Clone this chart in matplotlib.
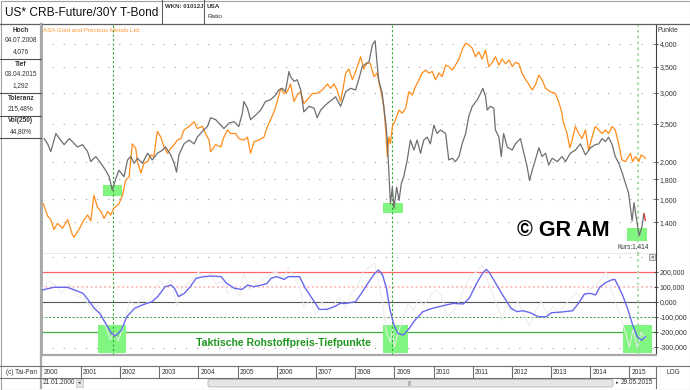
import matplotlib
matplotlib.use("Agg")
import matplotlib.pyplot as plt
from matplotlib.lines import Line2D
from matplotlib.patches import Rectangle, FancyBboxPatch
from matplotlib.transforms import IdentityTransform
from matplotlib.ticker import NullLocator, FixedLocator

plt.rcParams['font.family'] = ['Liberation Sans', 'DejaVu Sans']

# ---------------- data ----------------
gray_years = [2000.06, 2000.15, 2000.23, 2000.36, 2000.48, 2000.57, 2000.70, 2000.78, 2000.91, 2001.04,
              2001.17, 2001.25, 2001.38, 2001.51, 2001.63, 2001.72, 2001.80, 2001.89, 2001.97, 2002.10,
              2002.19, 2002.27, 2002.36, 2002.44, 2002.57, 2002.70, 2002.82, 2002.95, 2003.08, 2003.16,
              2003.29, 2003.38, 2003.44, 2003.50, 2003.63, 2003.76, 2003.89, 2003.97, 2004.10, 2004.23,
              2004.31, 2004.44, 2004.57, 2004.65, 2004.78, 2004.91, 2005.03, 2005.12, 2005.16, 2005.25,
              2005.33, 2005.46, 2005.59, 2005.71, 2005.84, 2005.97, 2006.05, 2006.14, 2006.22, 2006.31,
              2006.35, 2006.44, 2006.52, 2006.61, 2006.69, 2006.82, 2006.95, 2007.03, 2007.12, 2007.24,
              2007.37, 2007.50, 2007.63, 2007.76, 2007.88, 2008.01, 2008.09, 2008.18, 2008.27, 2008.35,
              2008.44, 2008.51, 2008.56, 2008.60, 2008.69, 2008.78, 2008.82, 2008.86, 2008.90, 2008.95,
              2008.99, 2009.06, 2009.12, 2009.18, 2009.24, 2009.33, 2009.41, 2009.50, 2009.58, 2009.67,
              2009.75, 2009.84, 2009.92, 2010.01, 2010.09, 2010.18, 2010.31, 2010.39, 2010.48, 2010.56,
              2010.65, 2010.73, 2010.82, 2010.90, 2010.99, 2011.12, 2011.20, 2011.26, 2011.33, 2011.37,
              2011.45, 2011.54, 2011.58, 2011.67, 2011.73, 2011.79, 2011.88, 2012.01, 2012.09, 2012.22,
              2012.30, 2012.39, 2012.45, 2012.52, 2012.60, 2012.69, 2012.77, 2012.86, 2012.94, 2013.03,
              2013.16, 2013.28, 2013.37, 2013.49, 2013.62, 2013.75, 2013.88, 2014.01, 2014.13, 2014.22,
              2014.30, 2014.39, 2014.47, 2014.56, 2014.64, 2014.73, 2014.81, 2014.90, 2014.98, 2015.03,
              2015.07, 2015.12, 2015.17, 2015.25, 2015.32, 2015.37, 2015.41]
gray_vals = [2.29, 2.22, 2.12, 2.36, 2.27, 2.21, 2.29, 2.25, 2.18, 2.21,
             2.12, 2.00, 2.06, 1.98, 1.90, 1.83, 1.69, 1.81, 1.90, 1.83,
             2.02, 2.06, 1.98, 2.04, 1.98, 2.10, 2.02, 2.10, 2.14, 2.18,
             2.08, 1.98, 1.88, 2.08, 2.22, 2.27, 2.22, 2.31, 2.39, 2.46,
             2.59, 2.56, 2.48, 2.43, 2.51, 2.53, 2.46, 2.66, 2.85, 2.74,
             2.56, 2.63, 2.71, 2.85, 2.88, 2.96, 3.05, 3.08, 3.02, 3.40,
             3.30, 3.21, 3.24, 3.05, 2.68, 2.77, 2.74, 2.59, 2.71, 2.79,
             2.86, 2.93, 2.77, 3.02, 3.08, 3.05, 3.24, 3.50, 3.56, 3.59,
             3.98, 4.076, 3.56, 3.24, 2.99, 2.51, 2.27, 1.87, 1.56, 1.72,
             1.52, 1.72, 1.59, 1.76, 1.83, 2.02, 2.27, 2.14, 2.27, 2.10,
             2.27, 2.31, 2.22, 2.48, 2.36, 2.41, 2.36, 2.02, 2.04, 2.00,
             2.06, 2.22, 2.36, 2.61, 2.77, 2.88, 2.99, 3.08, 2.93, 2.71,
             2.77, 2.74, 2.41, 2.31, 2.06, 2.36, 2.18, 2.14, 2.22, 2.29,
             2.12, 1.94, 1.79, 1.90, 2.02, 2.17, 2.06, 2.10, 1.96, 2.04,
             2.00, 2.06, 2.00, 2.10, 2.14, 2.22, 2.08, 2.17, 2.21, 2.22,
             2.29, 2.25, 2.31, 2.21, 2.06, 1.98, 1.88, 1.76, 1.66, 1.52,
             1.41, 1.57, 1.45, 1.292, 1.36, 1.47, 1.414]

orange_years = [2000.04, 2000.15, 2000.23, 2000.31, 2000.40, 2000.53, 2000.66, 2000.78, 2000.82, 2000.95,
                2001.08, 2001.17, 2001.25, 2001.33, 2001.42, 2001.51, 2001.59, 2001.68, 2001.76, 2001.84,
                2001.97, 2002.06, 2002.14, 2002.23, 2002.31, 2002.40, 2002.44, 2002.53, 2002.61, 2002.70,
                2002.78, 2002.86, 2002.95, 2003.04, 2003.12, 2003.21, 2003.29, 2003.38, 2003.46, 2003.55,
                2003.63, 2003.76, 2003.89, 2003.97, 2004.10, 2004.18, 2004.27, 2004.31, 2004.44, 2004.57,
                2004.65, 2004.74, 2004.82, 2004.95, 2005.03, 2005.16, 2005.25, 2005.33, 2005.42, 2005.54,
                2005.67, 2005.76, 2005.84, 2005.93, 2006.01, 2006.10, 2006.18, 2006.27, 2006.35, 2006.44,
                2006.52, 2006.61, 2006.69, 2006.78, 2006.91, 2007.03, 2007.16, 2007.29, 2007.37, 2007.46,
                2007.54, 2007.63, 2007.76, 2007.84, 2007.93, 2008.01, 2008.14, 2008.22, 2008.31, 2008.39,
                2008.48, 2008.56, 2008.65, 2008.73, 2008.78, 2008.82, 2008.86, 2008.90, 2008.95, 2009.03,
                2009.12, 2009.20, 2009.29, 2009.37, 2009.46, 2009.54, 2009.63, 2009.71, 2009.80, 2009.88,
                2009.97, 2010.05, 2010.14, 2010.22, 2010.31, 2010.39, 2010.48, 2010.56, 2010.65, 2010.73,
                2010.82, 2010.90, 2010.99, 2011.07, 2011.16, 2011.24, 2011.33, 2011.41, 2011.50, 2011.58,
                2011.67, 2011.75, 2011.84, 2011.93, 2012.01, 2012.09, 2012.18, 2012.26, 2012.35, 2012.43,
                2012.52, 2012.60, 2012.69, 2012.77, 2012.86, 2012.98, 2013.11, 2013.19, 2013.26, 2013.32,
                2013.41, 2013.48, 2013.54, 2013.62, 2013.71, 2013.79, 2013.88, 2013.96, 2014.05, 2014.13,
                2014.22, 2014.30, 2014.39, 2014.47, 2014.56, 2014.64, 2014.73, 2014.81, 2014.90, 2014.98,
                2015.03, 2015.08, 2015.16, 2015.24, 2015.30, 2015.36, 2015.41]
orange_vals = [1.56, 1.45, 1.42, 1.34, 1.39, 1.35, 1.42, 1.30, 1.28, 1.34,
               1.42, 1.46, 1.41, 1.64, 1.53, 1.49, 1.43, 1.49, 1.46, 1.52,
               1.56, 1.64, 1.79, 1.83, 2.22, 2.16, 2.00, 1.87, 1.98, 2.00,
               2.08, 2.06, 2.39, 2.31, 2.18, 2.10, 2.16, 2.21, 2.27, 2.29,
               2.41, 2.46, 2.53, 2.43, 2.46, 2.36, 2.27, 2.12, 2.21, 2.18,
               2.31, 2.41, 2.36, 2.36, 2.29, 2.27, 2.31, 2.10, 2.25, 2.27,
               2.31, 2.46, 2.56, 2.68, 2.85, 3.08, 2.99, 3.02, 3.16, 2.85,
               2.96, 3.02, 2.82, 2.88, 2.99, 2.99, 3.05, 3.16, 3.08, 3.16,
               3.05, 2.85, 3.37, 3.45, 3.24, 3.40, 3.71, 3.45, 3.59, 3.56,
               3.30, 3.37, 3.05, 2.77, 2.41, 2.06, 2.31, 2.22, 2.46, 2.56,
               2.71, 2.66, 2.74, 3.02, 2.96, 3.11, 3.24, 3.37, 3.43, 3.37,
               3.40, 3.24, 3.37, 3.30, 3.53, 3.50, 3.43, 3.53, 3.66, 3.86,
               4.02, 3.98, 3.90, 3.71, 3.82, 3.66, 3.86, 3.50, 3.59, 3.71,
               3.53, 3.66, 3.56, 3.64, 3.50, 3.59, 3.56, 3.37, 3.24, 3.16,
               3.05, 3.14, 3.33, 3.24, 3.08, 3.02, 2.99, 2.85, 2.71, 2.51,
               2.36, 2.17, 2.27, 2.46, 2.36, 2.29, 2.41, 2.14, 2.31, 2.46,
               2.41, 2.36, 2.41, 2.36, 2.46, 2.41, 2.21, 2.02, 2.00, 2.06,
               2.10, 2.00, 2.06, 2.00, 2.08, 2.06, 2.04]

osc_years = [2000.01, 2000.31, 2000.65, 2000.84, 2001.05, 2001.19, 2001.34, 2001.48, 2001.63, 2001.78,
             2001.88, 2002.03, 2002.17, 2002.37, 2002.56, 2002.81, 2002.96, 2003.15, 2003.30, 2003.39,
             2003.49, 2003.64, 2003.79, 2003.94, 2004.13, 2004.33, 2004.58, 2004.72, 2004.92, 2005.11,
             2005.26, 2005.41, 2005.61, 2005.75, 2005.85, 2006.00, 2006.19, 2006.29, 2006.44, 2006.58,
             2006.73, 2006.93, 2007.08, 2007.27, 2007.47, 2007.62, 2007.77, 2008.01, 2008.16, 2008.35,
             2008.50, 2008.60, 2008.70, 2008.80, 2008.89, 2008.99, 2009.09, 2009.23, 2009.38, 2009.53,
             2009.73, 2009.97, 2010.32, 2010.51, 2010.76, 2010.91, 2011.10, 2011.25, 2011.35, 2011.44,
             2011.59, 2011.79, 2011.98, 2012.13, 2012.28, 2012.47, 2012.67, 2012.87, 2013.02, 2013.26,
             2013.55, 2013.70, 2013.85, 2014.00, 2014.14, 2014.24, 2014.39, 2014.54, 2014.63, 2014.69,
             2014.82, 2014.95, 2015.08, 2015.20, 2015.31, 2015.41]
osc_vals = [80, 98, 98, 80, 58, 13, -42, -76, -142, -209,
            -227, -187, -98, -42, -20, 2, 36, 102, 113, 91,
            36, 58, 102, 158, 169, 173, 169, 124, 91, 84,
            113, 102, 113, 124, 158, 169, 151, 169, 169, 169,
            91, 13, -49, -49, -31, -9, -9, 2, 58, 135,
            191, 213, 180, 91, -53, -153, -209, -220, -176, -120,
            -64, -42, -20, -9, -13, 24, 124, 191, 218, 191,
            124, 36, -42, -64, -58, -71, -98, -98, -71, -67,
            -58, -9, 53, 58, 47, 98, 129, 147, 151, 120,
            50, -40, -150, -230, -255, -232]

raw_years = [2000.0, 2000.2, 2000.35, 2000.5, 2000.7, 2000.9, 2001.1, 2001.3, 2001.45, 2001.6,
             2001.75, 2001.85, 2001.95, 2002.1, 2002.25, 2002.4, 2002.55, 2002.7, 2002.85, 2003.0,
             2003.15, 2003.3, 2003.45, 2003.6, 2003.8, 2004.0, 2004.15, 2004.3, 2004.45, 2004.6,
             2004.75, 2004.9, 2005.05, 2005.15, 2005.3, 2005.5, 2005.65, 2005.85, 2006.0, 2006.15,
             2006.3, 2006.45, 2006.6, 2006.7, 2006.85, 2007.0, 2007.15, 2007.3, 2007.45, 2007.6,
             2007.75, 2007.9, 2008.05, 2008.2, 2008.4, 2008.5, 2008.6, 2008.7, 2008.8, 2008.9,
             2008.95, 2009.0, 2009.1, 2009.2, 2009.35, 2009.5, 2009.6, 2009.75, 2009.9, 2010.05,
             2010.2, 2010.35, 2010.5, 2010.65, 2010.8, 2010.95, 2011.1, 2011.25, 2011.35, 2011.5,
             2011.65, 2011.75, 2011.85, 2012.0, 2012.15, 2012.3, 2012.45, 2012.6, 2012.75, 2012.9,
             2013.05, 2013.2, 2013.35, 2013.5, 2013.65, 2013.8, 2013.95, 2014.1, 2014.25, 2014.4,
             2014.5, 2014.6, 2014.7, 2014.8, 2014.9, 2015.0, 2015.1, 2015.2, 2015.3, 2015.41]
raw_vals = [90, 140, 110, 60, 120, 40, 20, -60, -20, -140,
            -250, -200, -260, -150, 20, -40, 40, -10, 60, 140,
            110, 150, -30, 100, 140, 200, 150, 190, 120, 140,
            60, 100, 40, 190, 80, 120, 150, 190, 200, 150,
            230, 160, 80, -40, 20, -80, 0, -60, -20, 30,
            -40, 60, 100, 200, 240, 260, 120, 0, -200, -270,
            -180, -300, -200, -120, -10, -60, 20, -20, 30, 80,
            40, -100, -60, 0, 100, 180, 200, 250, 160, 60,
            -40, -120, -20, -60, 0, -80, -160, -60, 0, -80,
            -30, -80, -20, 20, 60, 20, 80, 100, 140, 200,
            120, 40, -40, -120, -200, -300, -180, -310, -200, -240]

year_labels = [str(y) for y in range(2000, 2016)]
top_ticks = [1.4, 1.6, 1.8, 2.0, 2.5, 3.0, 3.5, 4.0]
top_tick_labels = ["1,400", "1,600", "1,800", "2,000", "2,500", "3,000", "3,500", "4,000"]
bot_ticks = [200, 100, 0, -100, -200, -300]
bot_tick_labels = ["200,000", "100,000", "0,000", "-100,000", "-200,000", "-300,000"]
low_dates = [2001.81, 2008.95, 2015.22]

# ---------------- figure ----------------
W, H = 690, 390
fig = plt.figure(figsize=(W / 100, H / 100), dpi=100)
fig.patch.set_facecolor('white')
ID = IdentityTransform()


def T(x, y, s, **kw):
    kw.setdefault('fontsize', 5)
    kw.setdefault('color', '#333333')
    kw.setdefault('va', 'center')
    fig.text(x, H - y, s, transform=ID, **kw)


def L(x0, y0, x1, y1, color='#606060', lw=0.8, **kw):
    fig.add_artist(Line2D([x0, x1], [H - y0, H - y1], transform=ID, color=color, lw=lw, **kw))


XL, XR = 41, 656
YT, YM, YB = 24, 254, 355
x0, x1 = 1999.98, 2015.68

ax1 = fig.add_axes([XL / W, 1 - YM / H, (XR - XL) / W, (YM - YT) / H])
ax2 = fig.add_axes([XL / W, 1 - YB / H, (XR - XL) / W, (YB - YM) / H])

for ax in (ax1, ax2):
    ax.set_xlim(x0, x1)
    ax.set_xticks([])
    ax.spines['left'].set_color('#a8a8a8')
    ax.spines['left'].set_linewidth(2.0)
    ax.spines['right'].set_color('#404040')
    ax.spines['right'].set_linewidth(0.8)
    ax.spines['top'].set_visible(False)
    ax.yaxis.tick_right()
    ax.tick_params(axis='y', which='both', left=False, right=True, labelleft=False,
                   labelright=True, length=3, width=0.6, direction='inout',
                   labelsize=5, colors='#333333', pad=1)
ax1.spines['bottom'].set_color('#505050')
ax1.spines['bottom'].set_linewidth(0.9)
ax2.spines['bottom'].set_color('#a8a8a8')
ax2.spines['bottom'].set_linewidth(1.6)

# top panel
ax1.set_yscale('log')
ax1.set_ylim(1.16, 4.50)
ax1.yaxis.set_major_locator(FixedLocator(top_ticks))
ax1.set_yticklabels(top_tick_labels)
ax1.yaxis.set_minor_locator(NullLocator())
for t in top_ticks:
    ax1.axhline(t, color='#a0a0a0', lw=0.8, ls=(0, (1, 9)), zorder=1)

rect_top = [(2001.56, 2002.04, 1.635, 1.745), (2008.70, 2009.21, 1.48, 1.57), (2014.95, 2015.46, 1.25, 1.35)]
for a, b, lo, hi in rect_top:
    ax1.add_patch(Rectangle((a, lo), b - a, hi - lo, facecolor='#80f580', edgecolor='none', zorder=2))

ax1.plot(orange_years, orange_vals, color='#ff8c1a', lw=0.9, zorder=4)
ax1.plot(gray_years[:-1], gray_vals[:-1], color='#6e6e6e', lw=0.9, zorder=5)
ax1.plot(gray_years[-2:], gray_vals[-2:], color='#e02a2a', lw=0.9, zorder=6)

# bottom panel
ax2.set_ylim(-353, 320)
ax2.set_yticks(bot_ticks)
ax2.set_yticklabels(bot_tick_labels)
ax2.axhline(200, color='#ff6666', lw=0.9, zorder=1)
ax2.axhline(100, color='#ffb4b4', lw=1.3, ls=(0, (1, 1.5)), zorder=1)
ax2.axhline(0, color='#555555', lw=0.8, zorder=1)
ax2.axhline(-100, color='#3c9c3c', lw=0.7, ls=(0, (2, 2)), zorder=1)
ax2.axhline(-200, color='#44b044', lw=0.9, zorder=1)
ax2.axhline(-307, color='#a0a0a0', lw=0.8, ls=(0, (1, 9)), zorder=1)
ax2.axhline(300, color='#a0a0a0', lw=0.8, ls=(0, (1, 9)), zorder=1)

rect_bot = [(2001.43, 2002.14), (2008.72, 2009.36), (2014.85, 2015.59)]
for a, b in rect_bot:
    ax2.add_patch(Rectangle((a, -340), b - a, 190, facecolor='#80f580', edgecolor='none', zorder=2))

ax2.plot(raw_years, raw_vals, color='#ececec', lw=0.7, zorder=3)
ax2.plot(osc_years, osc_vals, color='#6868ee', lw=1.0, zorder=5)
ax2.text(2006.18, -275, 'Taktische Rohstoffpreis-Tiefpunkte', color='#1e961e', fontsize=7.6,
         fontweight='bold', ha='center', va='center', zorder=6)

# vertical dashed low markers
for i, d in enumerate(low_dates):
    for ax in (ax1, ax2):
        if i < 2:
            ax.axvline(d, color='#33aa33', lw=0.8, ls=(0, (2, 2)), zorder=3)
        else:
            ax.axvline(d, color='#a2daa2', lw=1.4, ls=(0, (1.2, 1.8)), zorder=3)

# ---------------- chrome ----------------
fig.add_artist(Rectangle((0.5, 0.5), W - 1, H - 1, transform=ID, fill=False, edgecolor='#a0a0a0', lw=0.8))
L(0, YT, W, YT, '#606060', 0.9)
L(162, 0, 162, YT, '#606060', 0.8)
L(204, 0, 204, YT, '#606060', 0.8)
T(5, 12.5, 'US* CRB-Future/30Y T-Bond', fontsize=8.6, color='#111111')
T(165, 6, 'WKN: 01012J', fontsize=4.4, fontweight='bold', color='#333333')
T(207, 6, 'USA', fontsize=4.6, fontweight='bold', color='#333333')
T(207, 17, 'Ratio', fontsize=4.6, color='#333333')

# left info panel
L(XL, YT, XL, 388, '#a8a8a8', 1.6)
for yy in (59, 93, 116, 138):
    L(0, yy, XL, yy, '#505050', 0.8)
info = [(30, 'Hoch', True), (41, '04.07.2008', False), (52, '4,076', False),
        (64, 'Tief', True), (75, '03.04.2015', False), (86, '1,292', False),
        (98, 'Toleranz', True), (109, '215,48%', False),
        (121, 'Vol(250)', True), (132, '44,80%', False)]
for yy, s, b in info:
    T(21, yy, s, fontsize=4.7, ha='center', fontweight='bold' if b else 'normal')

T(43, 30, 'ASA Gold and Precious Metals Ltd.', fontsize=4.5, color='#ff9933')
T(658, 31, 'Punkte', fontsize=4.8)
T(517, 231, '\u00a9 GR AM', fontsize=15.5, fontweight='bold', color='#000000')
T(633, 247, 'Kurs:1,414', fontsize=4.7, ha='center')
fig.add_artist(Rectangle((649, H - 260), 6, 6, transform=ID, facecolor='#e8e8e8', edgecolor='#808080', lw=0.5))
T(652, 257, '\u00d7', fontsize=4.5, ha='center', color='#333333')

# year row
L(0, 366, W, 366, '#707070', 0.8)
L(0, 378, XR, 378, '#707070', 0.8)
L(XR, 366, XR, 388, '#707070', 0.8)
T(6, 372, '(c) Tai-Pan', fontsize=4.7)
px_per_year = (XR - XL) / (x1 - x0)
for i, lab in enumerate(year_labels):
    xp = XL + (2000 + i - x0) * px_per_year
    if i > 0:
        L(xp, 366, xp, 378, '#707070', 0.8)
    T(xp + 2, 372.5, lab, fontsize=4.7)
T(673, 373, 'LOG', fontsize=4.7, ha='center')

# scroll row
T(43, 383, '21.01.2000', fontsize=4.7)
fig.add_artist(Rectangle((76, H - 387), 7, 8, transform=ID, facecolor='#e4e4e4', edgecolor='#c0c0c0', lw=0.5))
T(79.5, 383, '\u25c2', fontsize=3.5, ha='center', family=['DejaVu Sans'])
fig.add_artist(FancyBboxPatch((208, H - 387), 405, 7.5, boxstyle='round,pad=0,rounding_size=2',
                              transform=ID, facecolor='#e6e6e6', edgecolor='#b4b4b4', lw=0.6))
T(410, 383.2, '|||', fontsize=3.6, ha='center', color='#777777')
T(617, 383, '\u25b8', fontsize=3.5, ha='center', family=['DejaVu Sans'])
T(621, 383, '29.05.2015', fontsize=4.7)

fig.savefig('out.png', dpi=100, facecolor='white')
